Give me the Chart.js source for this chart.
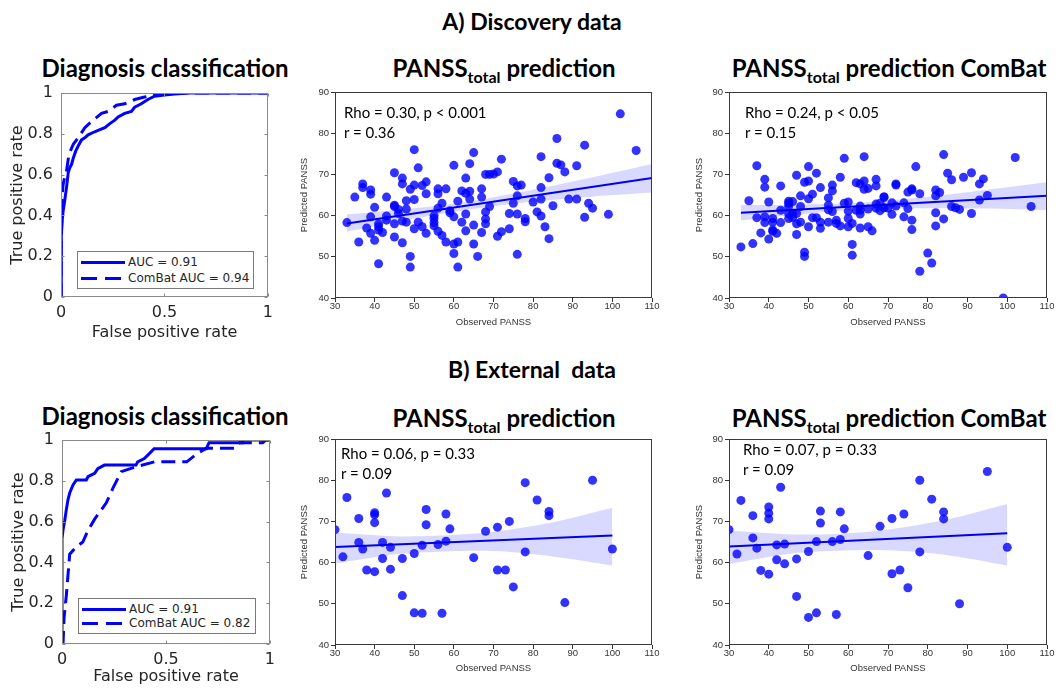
<!DOCTYPE html>
<html>
<head>
<meta charset="utf-8">
<script src="https://cdn.jsdelivr.net/npm/chart.js@4.4.0/dist/chart.umd.min.js"></script>
<style>
  html, body { margin: 0; padding: 0; background: #fff; }
  body { width: 1059px; height: 691px; position: relative; overflow: hidden; font-family: Lato, 'Open Sans', sans-serif; color: #000; }
  canvas { position: absolute; }
  .head { position: absolute; transform: translate(-50%, -50%); font-weight: bold; font-size: 23px; line-height: 28px; white-space: pre; }
  .ttl { position: absolute; transform: translate(-50%, -50%); font-weight: bold; font-size: 24px; line-height: 28px; white-space: nowrap; }
  .ttl sub { font-size: 16px; line-height: 0; vertical-align: -6px; }
  .stat { position: absolute; font-size: 15px; line-height: 20px; white-space: nowrap; z-index: 2; }
  .legend { position: absolute; box-sizing: border-box; border: 1px solid #7a7a7a; background: #fff; z-index: 2;
            font-family: 'DejaVu Sans', sans-serif; font-size: 12px; color: #262626; }
  .row { position: absolute; left: 3px; height: 14px; display: flex; align-items: center; white-space: nowrap; }
  .sw { width: 44px; height: 3px; margin-right: 3px; background: #0000ff; }
  .sw.dash { background: repeating-linear-gradient(90deg, #0000ff 0 16px, transparent 16px 24px); }
</style>
</head>
<body>

<div class="head" style="left:532px; top:21px;">A) Discovery data</div>
<div class="head" style="left:532px; top:369px;">B) External  data</div>

<div class="ttl" style="left:165px; top:68px;">Diagnosis classification</div>
<div class="ttl" style="left:504px; top:68px;">PANSS<sub>total</sub> prediction</div>
<div class="ttl" style="left:889px; top:68px;">PANSS<sub>total</sub> prediction ComBat</div>
<div class="ttl" style="left:165px; top:416px;">Diagnosis classification</div>
<div class="ttl" style="left:504px; top:418px;">PANSS<sub>total</sub> prediction</div>
<div class="ttl" style="left:889px; top:418px;">PANSS<sub>total</sub> prediction ComBat</div>

<div class="stat" style="left:344px; top:102px;">Rho = 0.30, p &lt; 0.001<br>r = 0.36</div>
<div class="stat" style="left:745px; top:102px;">Rho = 0.24, p &lt; 0.05<br>r = 0.15</div>
<div class="stat" style="left:341px; top:443px;">Rho = 0.06, p = 0.33<br>r = 0.09</div>
<div class="stat" style="left:743px; top:439px;">Rho = 0.07, p = 0.33<br>r = 0.09</div>

<div class="legend" style="left:77px; top:251px; width:177px; height:38px;">
  <div class="row" style="top:3px;"><div class="sw"></div>AUC = 0.91</div>
  <div class="row" style="top:19px;"><div class="sw dash"></div>ComBat AUC = 0.94</div>
</div>
<div class="legend" style="left:78px; top:598px; width:178px; height:36px;">
  <div class="row" style="top:3px;"><div class="sw"></div>AUC = 0.91</div>
  <div class="row" style="top:17px;"><div class="sw dash"></div>ComBat AUC = 0.82</div>
</div>

<script>
// ---- tick labels ----
const rocXTicks = [0, 0.5, 1];
const rocYTicks = [0, 0.2, 0.4, 0.6, 0.8, 1];
const panssXTicks = [30, 40, 50, 60, 70, 80, 90, 100, 110];
const panssYTicks = [40, 50, 60, 70, 80, 90];

// ---- A) discovery ROC ----
const discFpr = [0, 0, 0.003, 0.006, 0.01, 0.016, 0.027, 0.035, 0.043, 0.051, 0.059, 0.071, 0.083, 0.099, 0.115, 0.131,
                 0.163, 0.188, 0.212, 0.236, 0.26, 0.276, 0.308, 0.34, 0.356, 0.388, 0.42, 0.452, 0.5, 0.55, 0.62, 1];
const discTpr = [0, 0.1, 0.3, 0.378, 0.42, 0.458, 0.54, 0.61, 0.635, 0.65, 0.68, 0.715, 0.74, 0.77, 0.78, 0.795,
                 0.81, 0.82, 0.83, 0.85, 0.867, 0.883, 0.9, 0.91, 0.93, 0.947, 0.968, 0.984, 0.99, 0.995, 1, 1];
const discCombatFpr = [0, 0, 0.003, 0.006, 0.01, 0.02, 0.027, 0.037, 0.043, 0.06, 0.083, 0.115, 0.147, 0.196, 0.228,
                       0.268, 0.308, 0.356, 0.404, 0.45, 0.5, 0.54, 1];
const discCombatTpr = [0, 0.2, 0.36, 0.5, 0.55, 0.6, 0.62, 0.69, 0.71, 0.75, 0.78, 0.83, 0.86, 0.9, 0.91,
                       0.94, 0.947, 0.968, 0.98, 0.99, 0.997, 1, 1];

// ---- B) external ROC ----
const extFpr = [0, 0, 0.005, 0.013, 0.021, 0.029, 0.037, 0.053, 0.069, 0.117, 0.125, 0.157, 0.172, 0.204, 0.356,
                0.364, 0.396, 0.42, 0.443, 0.694, 0.707, 0.87, 0.87, 1];
const extTpr = [0, 0.516, 0.56, 0.604, 0.66, 0.708, 0.74, 0.78, 0.804, 0.804, 0.82, 0.837, 0.86, 0.877, 0.877,
                0.893, 0.909, 0.933, 0.957, 0.957, 0.987, 0.987, 1, 1];
const extCombatFpr = [0, 0.005, 0.01, 0.021, 0.029, 0.037, 0.069, 0.1, 0.125, 0.157, 0.213, 0.245, 0.285, 0.356,
                      0.445, 0.6, 0.646, 0.694, 0.837, 0.853, 0.965, 0.98, 1];
const extCombatTpr = [0, 0, 0.13, 0.24, 0.34, 0.44, 0.476, 0.5, 0.556, 0.612, 0.692, 0.764, 0.845, 0.869,
                      0.893, 0.893, 0.93, 0.96, 0.96, 0.987, 0.987, 1, 1];

// ---- A) discovery PANSS ----
const discObs = [33, 35, 36, 37, 37, 38, 39, 39, 39, 39, 40, 40, 41, 41, 41, 41, 42, 43, 43, 43,
                 45, 45, 45, 45, 45, 46, 46, 47, 47, 47, 47, 48, 48, 48, 49, 49, 49, 50, 50, 50,
                 50, 51, 51, 52, 52, 53, 53, 53, 55, 55, 55, 55, 56, 56, 56, 56, 57, 57, 58, 58,
                 59, 59, 60, 60, 60, 60, 61, 61, 61, 62, 62, 63, 63, 63, 63, 64, 64, 64, 65, 65,
                 65, 66, 67, 67, 67, 68, 68, 68, 68, 69, 69, 70, 71, 71, 72, 72, 74, 74, 75, 75,
                 76, 76, 76, 76, 77, 78, 78, 80, 81, 82, 82, 82, 82, 83, 84, 84, 85, 86, 86, 87,
                 88, 89, 91, 91, 93, 93, 94, 95, 99, 102, 106];
const discPred = [58.3, 64.5, 53.6, 67.7, 66.8, 57.0, 66.2, 65.2, 59.7, 55.7, 62.0, 54.0, 58.0, 57.3, 56.5, 48.3, 55.9, 64.5, 59.9, 58.9,
                  70.4, 62.5, 62.2, 58.0, 54.8, 61.5, 60.5, 69.1, 67.7, 58.7, 53.4, 63.6, 61.6, 58.4, 66.4, 50.1, 47.5, 76.0, 67.4, 63.9,
                  56.8, 71.6, 58.4, 67.3, 57.3, 68.2, 65.3, 55.7, 60.0, 59.3, 58.3, 57.5, 66.5, 65.3, 61.8, 56.2, 63.0, 55.2, 66.5, 53.6,
                  61.2, 60.7, 72.2, 59.7, 53.1, 50.8, 63.5, 53.6, 47.5, 66.0, 58.4, 69.1, 65.4, 60.4, 56.3, 72.6, 65.9, 64.0, 75.3, 57.7,
                  53.1, 50.1, 66.5, 64.5, 55.9, 70.0, 60.9, 59.2, 58.0, 70.0, 62.2, 70.1, 70.6, 55.0, 73.7, 56.1, 60.5, 56.8, 68.3, 63.0,
                  67.2, 64.8, 60.4, 50.6, 67.4, 59.3, 58.5, 63.3, 60.9, 74.3, 66.8, 64.0, 59.9, 57.3, 69.2, 54.4, 62.4, 78.7, 72.7, 72.3,
                  70.6, 64.0, 72.1, 64.0, 77.1, 59.6, 63.0, 61.8, 60.3, 84.7, 75.8];
const discFitX = [33, 110];
const discFitY = [58.1, 69.1];
const discBandX = [33, 45, 62, 80, 95, 110];
const discBandHi = [60.3, 61.3, 63.2, 66.3, 69.3, 72.5];
const discBandLo = [56.1, 58.4, 61.2, 63.4, 64.6, 65.6];

// ---- A) discovery PANSS, ComBat ----
const discCombatObs = [33, 35, 36, 37, 37, 38, 39, 39, 39, 39, 40, 40, 41, 41, 41, 41, 42, 43, 43, 43,
                       45, 45, 45, 45, 45, 46, 46, 46, 47, 47, 47, 47, 48, 48, 48, 49, 49, 49, 50, 50,
                       50, 50, 51, 51, 52, 52, 53, 53, 53, 55, 55, 55, 55, 56, 56, 56, 57, 57, 58, 58,
                       59, 59, 60, 60, 60, 60, 61, 61, 61, 62, 62, 63, 63, 63, 63, 63, 64, 64, 64, 65,
                       65, 65, 66, 67, 67, 67, 67, 68, 68, 69, 69, 69, 70, 71, 71, 72, 72, 72, 74, 74,
                       75, 75, 76, 76, 76, 76, 77, 78, 78, 80, 81, 82, 82, 82, 82, 83, 84, 84, 85, 86,
                       86, 87, 88, 89, 91, 91, 93, 93, 94, 95, 99, 102, 106];
const discCombatPred = [52.4, 63.6, 53.2, 72.1, 59.5, 55.8, 68.8, 66.9, 59.7, 58.3, 63.3, 54.3, 59.3, 58.4, 56.5, 56.2, 55.7, 67.2, 61.3, 58.3,
                        63.5, 63.0, 62.2, 60.5, 59.3, 63.4, 60.5, 59.5, 69.8, 60.5, 58.0, 55.4, 64.8, 62.2, 58.4, 68.1, 51.1, 50.1, 71.9, 68.4,
                        64.1, 57.3, 65.2, 59.5, 70.3, 59.5, 66.8, 58.4, 56.9, 64.3, 62.5, 61.4, 58.4, 67.4, 66.0, 61.0, 58.9, 58.1, 69.3, 57.5,
                        73.9, 63.0, 63.3, 61.1, 59.3, 57.3, 58.1, 53.0, 50.4, 68.0, 61.3, 67.7, 62.3, 61.3, 60.4, 57.0, 74.3, 68.4, 66.4, 66.6,
                        61.6, 57.3, 56.3, 68.8, 67.2, 62.8, 61.8, 63.0, 61.2, 64.6, 64.4, 61.9, 61.8, 63.1, 60.3, 67.7, 67.4, 62.3, 63.1, 59.7,
                        65.7, 61.7, 66.5, 66.2, 58.9, 56.6, 71.9, 65.3, 46.5, 50.9, 48.5, 66.2, 64.8, 60.7, 57.5, 65.6, 74.8, 59.2, 70.3, 68.7,
                        62.2, 61.9, 61.5, 69.3, 70.4, 60.5, 67.7, 63.8, 68.9, 64.9, 40.0, 74.1, 62.2];
const discCombatFitX = [33, 110];
const discCombatFitY = [60.7, 64.8];
const discCombatBandX = [33, 45, 62, 80, 95, 110];
const discCombatBandHi = [62.6, 62.6, 63.1, 64.6, 66.3, 68.1];
const discCombatBandLo = [58.8, 60.0, 61.4, 61.8, 61.7, 61.3];

// ---- B) external PANSS ----
const extObs = [30, 32, 33, 36, 36, 37, 38, 40, 40, 40, 40, 42, 42, 43, 44, 44, 47, 47, 50, 50,
                52, 52, 53, 53, 56, 57, 58, 58, 59, 65, 68, 71, 71, 73, 74, 75, 78, 78, 81, 84,
                84, 88, 95, 100];
const extPred = [68.0, 61.4, 75.8, 70.7, 64.9, 63.3, 58.2, 72.1, 71.6, 69.7, 57.8, 64.9, 61.0, 76.9, 63.7, 58.4, 61.0, 52.0, 62.2, 47.8,
                 64.2, 47.7, 72.9, 69.2, 64.4, 47.7, 71.8, 65.2, 68.2, 61.2, 67.6, 68.6, 58.2, 58.2, 70.0, 54.1, 79.4, 62.6, 75.2, 72.4,
                 71.4, 50.3, 80.0, 63.3];
const extFitX = [30, 100];
const extFitY = [63.8, 66.6];
const extBandX = [30, 45, 55, 70, 85, 100];
const extBandHi = [67.3, 66.4, 66.5, 67.5, 69.8, 73.3];
const extBandLo = [59.7, 62.0, 62.6, 62.8, 61.5, 59.3];

// ---- B) external PANSS, ComBat ----
const extCombatObs = [30, 32, 33, 36, 36, 37, 38, 40, 40, 40, 40, 42, 42, 43, 44, 44, 47, 47, 50, 50,
                      52, 52, 53, 53, 56, 57, 58, 58, 59, 65, 68, 71, 71, 73, 74, 75, 78, 78, 81, 84,
                      84, 88, 95, 100];
const extCombatPred = [68.0, 62.1, 75.1, 71.4, 66.0, 63.5, 58.1, 73.5, 72.0, 70.6, 57.2, 64.3, 60.7, 78.3, 64.5, 59.7, 60.9, 51.8, 62.7, 46.7,
                       65.1, 47.8, 72.5, 69.6, 65.1, 47.4, 72.3, 65.6, 68.2, 61.7, 68.8, 70.7, 57.3, 58.2, 71.8, 53.9, 80.0, 62.6, 75.4, 72.3,
                       70.6, 50.0, 82.1, 63.7];
const extCombatFitX = [30, 100];
const extCombatFitY = [63.9, 67.1];
const extCombatBandX = [30, 45, 55, 70, 85, 100];
const extCombatBandHi = [67.8, 66.9, 66.9, 68.0, 70.5, 74.2];
const extCombatBandLo = [59.7, 62.1, 62.8, 63.0, 61.8, 59.3];

// ---- helpers ----
const pts = (xs, ys) => xs.map((x, i) => ({ x: x, y: ys[i] }));

// box around the plot area; optional inward ticks (matlab style)
const framePlugin = {
    id: 'frame',
    afterDraw(chart, args, opts) {
        const { ctx, chartArea: a } = chart;
        const L = Math.round(a.left) + 0.5, R = Math.round(a.right) - 0.5;
        const T = Math.round(a.top) + 0.5, B = Math.round(a.bottom) - 0.5;
        ctx.save();
        ctx.strokeStyle = opts.color;
        ctx.lineWidth = 1;
        ctx.strokeRect(L, T, R - L, B - T);
        if (opts.inTicks) {
            ctx.beginPath();
            chart.scales.x.ticks.forEach(t => {
                const px = Math.round(chart.scales.x.getPixelForValue(t.value)) + 0.5;
                ctx.moveTo(px, B); ctx.lineTo(px, B - 3);
                ctx.moveTo(px, T); ctx.lineTo(px, T + 3);
            });
            chart.scales.y.ticks.forEach(t => {
                const py = Math.round(chart.scales.y.getPixelForValue(t.value)) + 0.5;
                ctx.moveTo(L, py); ctx.lineTo(L + 3, py);
                ctx.moveTo(R, py); ctx.lineTo(R - 3, py);
            });
            ctx.stroke();
        }
        ctx.restore();
    }
};

function makeCanvas(box, m) {
    const c = document.createElement('canvas');
    const w = box.r - box.l + m.left + m.right;
    const h = box.b - box.t + m.top + m.bottom;
    c.width = w;
    c.height = h;
    c.style.left = (box.l - m.left) + 'px';
    c.style.top = (box.t - m.top) + 'px';
    c.style.width = w + 'px';
    c.style.height = h + 'px';
    document.body.appendChild(c);
    return c;
}

function axis(m, horiz, min, max, ticks, title, font, color, pad, tickLen) {
    return {
        type: 'linear', min: min, max: max,
        afterBuildTicks: s => { s.ticks = ticks.map(v => ({ value: v })); },
        afterFit: s => { if (horiz) s.height = m.bottom; else s.width = m.left; },
        grid: tickLen
            ? { drawOnChartArea: false, drawTicks: true, tickLength: tickLen, color: color }
            : { display: false, drawTicks: false },
        border: { display: false },
        ticks: { font: font, color: color, padding: pad, callback: v => String(v) },
        title: { display: true, text: title, font: font, color: color, padding: 0 },
    };
}

function rocChart(box, m, solid, dashed) {
    const font = { family: 'DejaVu Sans', size: 16, lineHeight: 1 };
    new Chart(makeCanvas(box, m), {
        type: 'scatter',
        data: {
            datasets: [
                { label: 'AUC', data: solid, showLine: true, borderColor: '#0000ff', borderWidth: 3, pointRadius: 0 },
                { label: 'ComBat AUC', data: dashed, showLine: true, borderColor: '#0000ff', borderWidth: 3,
                  borderDash: [14, 7], pointRadius: 0 },
            ],
        },
        options: {
            responsive: false, animation: false, devicePixelRatio: 1, events: [],
            layout: { padding: { left: 0, top: m.top, right: m.right, bottom: 0 } },
            plugins: { legend: { display: false }, tooltip: { enabled: false }, frame: { color: '#8a8a8a', inTicks: true } },
            scales: {
                x: axis(m, true, 0, 1, rocXTicks, 'False positive rate', font, '#262626', 8, 0),
                y: axis(m, false, 0, 1, rocYTicks, 'True positive rate', font, '#262626', 8, 0),
            },
        },
        plugins: [framePlugin],
    });
}

function panssChart(box, m, obs, pred, fitX, fitY, bandX, bandHi, bandLo) {
    const font = { family: 'Liberation Sans', size: 9.5, lineHeight: 1 };
    new Chart(makeCanvas(box, m), {
        type: 'scatter',
        data: {
            datasets: [
                { label: 'fit', data: pts(fitX, fitY), showLine: true, borderColor: '#0000ee', borderWidth: 2,
                  pointRadius: 0, order: 0 },
                { label: 'ci high', data: pts(bandX, bandHi), showLine: true, borderColor: 'rgba(0,0,0,0)', borderWidth: 1,
                  pointRadius: 0, tension: 0.3, fill: '+1', backgroundColor: 'rgba(0,0,255,0.15)', order: 1 },
                { label: 'ci low', data: pts(bandX, bandLo), showLine: true, borderColor: 'rgba(0,0,0,0)', borderWidth: 1,
                  pointRadius: 0, tension: 0.3, fill: false, order: 1 },
                { label: 'subjects', data: pts(obs, pred), pointRadius: 4.5, borderWidth: 0,
                  backgroundColor: 'rgba(0,0,255,0.8)', order: 2 },
            ],
        },
        options: {
            responsive: false, animation: false, devicePixelRatio: 1, events: [],
            layout: { padding: { left: 0, top: m.top, right: m.right, bottom: 0 } },
            plugins: { legend: { display: false }, tooltip: { enabled: false }, frame: { color: '#3a3a3a' } },
            scales: {
                x: axis(m, true, 30, 110, panssXTicks, 'Observed PANSS', font, '#333333', 0, 4),
                y: axis(m, false, 40, 90, panssYTicks, 'Predicted PANSS', font, '#333333', 2, 4),
            },
        },
        plugins: [framePlugin],
    });
}

// ---- A) Discovery data ----
rocChart({ l: 61, t: 89, r: 269, b: 297 }, { left: 51, top: 12, right: 12, bottom: 44 },
         pts(discFpr, discTpr), pts(discCombatFpr, discCombatTpr));
panssChart({ l: 335, t: 92, r: 652, b: 298 }, { left: 35, top: 12, right: 12, bottom: 29 },
           discObs, discPred, discFitX, discFitY, discBandX, discBandHi, discBandLo);
panssChart({ l: 729, t: 92, r: 1047, b: 298 }, { left: 34, top: 12, right: 12, bottom: 29 },
           discCombatObs, discCombatPred, discCombatFitX, discCombatFitY, discCombatBandX, discCombatBandHi, discCombatBandLo);

// ---- B) External data ----
rocChart({ l: 62, t: 436, r: 271, b: 644 }, { left: 51, top: 12, right: 12, bottom: 41 },
         pts(extFpr, extTpr), pts(extCombatFpr, extCombatTpr));
panssChart({ l: 335, t: 439, r: 652, b: 645 }, { left: 35, top: 12, right: 12, bottom: 28 },
           extObs, extPred, extFitX, extFitY, extBandX, extBandHi, extBandLo);
panssChart({ l: 729, t: 439, r: 1047, b: 645 }, { left: 34, top: 12, right: 12, bottom: 28 },
           extCombatObs, extCombatPred, extCombatFitX, extCombatFitY, extCombatBandX, extCombatBandHi, extCombatBandLo);
</script>
</body>
</html>
